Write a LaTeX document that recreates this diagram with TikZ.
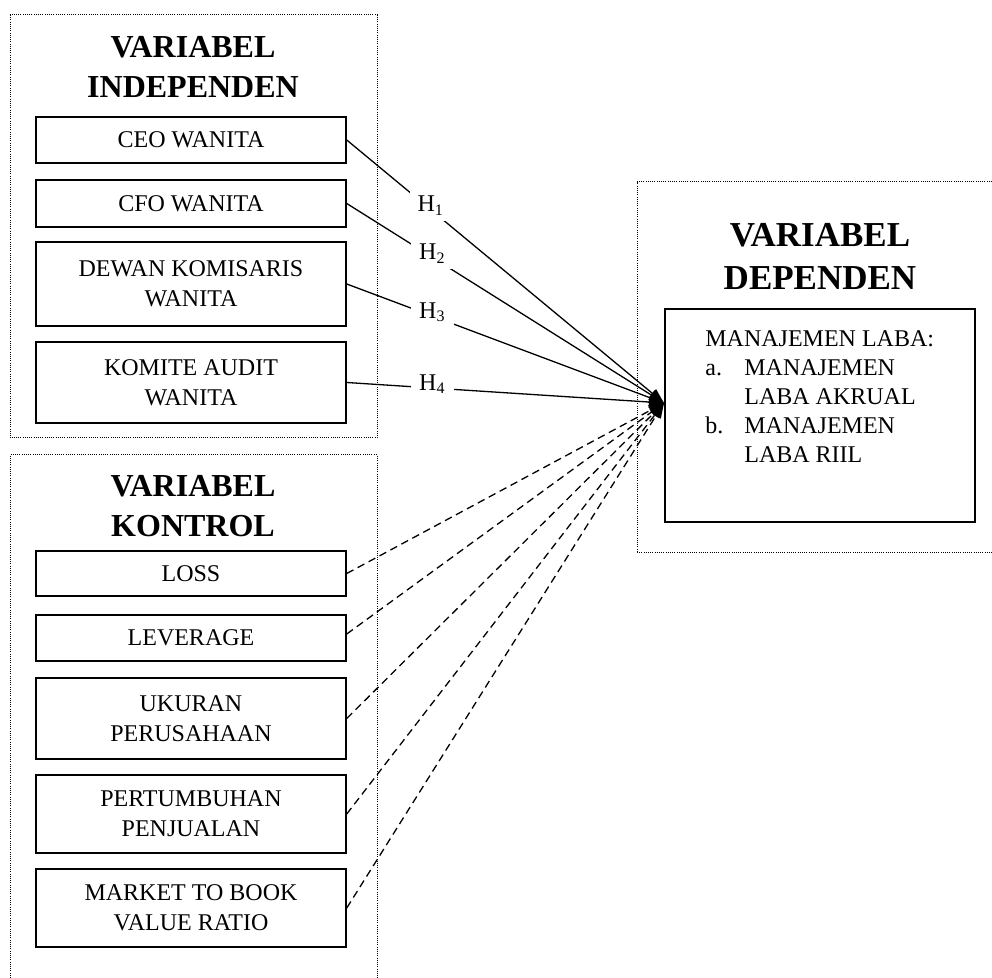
\documentclass[tikz,border=0pt]{standalone}
\usepackage{fontspec}
\setmainfont{Liberation Serif}
\usetikzlibrary{arrows.meta}
\begin{document}
\begin{tikzpicture}[x=0.5pt,y=-0.5pt,
  grp/.style={line width=0.5pt, dash pattern=on 0.5pt off 0.6pt},
  vbox/.style={draw, line width=0.75pt, minimum width=155pt, align=center,
    font=\fontsize{12}{15}\selectfont, inner sep=0pt},
  ttl/.style={align=center, font=\fontsize{16}{20}\selectfont\bfseries},
  hyp/.style={-{Triangle[length=7.5pt,width=5.5pt]}, line width=0.65pt},
  ctl/.style={hyp, dash pattern=on 3.8pt off 2.4pt},
  hlab/.style={fill=white, inner xsep=4pt, inner ysep=3pt, yshift=2pt,
    font=\fontsize{12}{14}\selectfont}
]
\useasboundingbox (0,0) rectangle (992,978);

% group frames
\draw[grp] (10,15) rectangle (377,438);
\draw[grp] (10,978) -- (10,455) -- (377,455) -- (377,978);
\draw[grp] (992,182) -- (637,182) -- (637,553) -- (992,553);

% titles
\node[ttl] (tind) at (193,67) {VARIABEL\\INDEPENDEN};
\node[ttl] (tkon) at (193,506) {VARIABEL\\KONTROL};
\node[ttl, font=\fontsize{17.5}{21.5}\selectfont\bfseries] (tdep) at (820,256) {VARIABEL\\DEPENDEN};

% independent variables
\node[vbox, minimum height=23pt] (ceo) at (191,140) {CEO WANITA};
\node[vbox, minimum height=23.5pt] (cfo) at (191,203.5) {CFO WANITA};
\node[vbox, minimum height=42pt] (dk) at (191,284) {DEWAN KOMISARIS\\WANITA};
\node[vbox, minimum height=40.5pt] (ka) at (191,382.5) {KOMITE AUDIT\\WANITA};

% control variables
\node[vbox, minimum height=22.5pt] (loss) at (191,573.5) {LOSS};
\node[vbox, minimum height=23pt] (lev) at (191,638) {LEVERAGE};
\node[vbox, minimum height=40.5pt] (uk) at (191,718.5) {UKURAN\\PERUSAHAAN};
\node[vbox, minimum height=39pt] (pp) at (191,814) {PERTUMBUHAN\\PENJUALAN};
\node[vbox, minimum height=39pt] (mtb) at (191,908) {MARKET TO BOOK\\VALUE RATIO};

% dependent variable
\node[draw, line width=0.75pt, minimum width=155pt, minimum height=106.5pt] (dep) at (820,415.5) {};
\node[anchor=north west, inner sep=0pt, align=left,
      font=\fontsize{12}{14.5}\selectfont] (deptxt) at (705,330)
  {MANAJEMEN LABA:\\
   \makebox[19.5pt][l]{a.}MANAJEMEN\\
   \hspace*{19.5pt}LABA AKRUAL\\
   \makebox[19.5pt][l]{b.}MANAJEMEN\\
   \hspace*{19.5pt}LABA RIIL};

\coordinate (tgt) at (664,403);

% hypotheses
\draw[hyp] (ceo.east) -- node[hlab, pos=0.265] {H\textsubscript{1}} (tgt);
\draw[hyp] (cfo.east) -- node[hlab, pos=0.27] {H\textsubscript{2}} (tgt);
\draw[hyp] (dk.east) -- node[hlab, pos=0.27] {H\textsubscript{3}} (tgt);
\draw[hyp] (ka.east) -- node[hlab, pos=0.27] {H\textsubscript{4}} (tgt);

% controls
\draw[ctl] (loss.east) -- (tgt);
\draw[ctl] ([yshift=2pt]lev.east) -- (tgt);
\draw[ctl] (uk.east) -- (tgt);
\draw[ctl] (pp.east) -- (tgt);
\draw[ctl] (mtb.east) -- (tgt);
\end{tikzpicture}
\end{document}
